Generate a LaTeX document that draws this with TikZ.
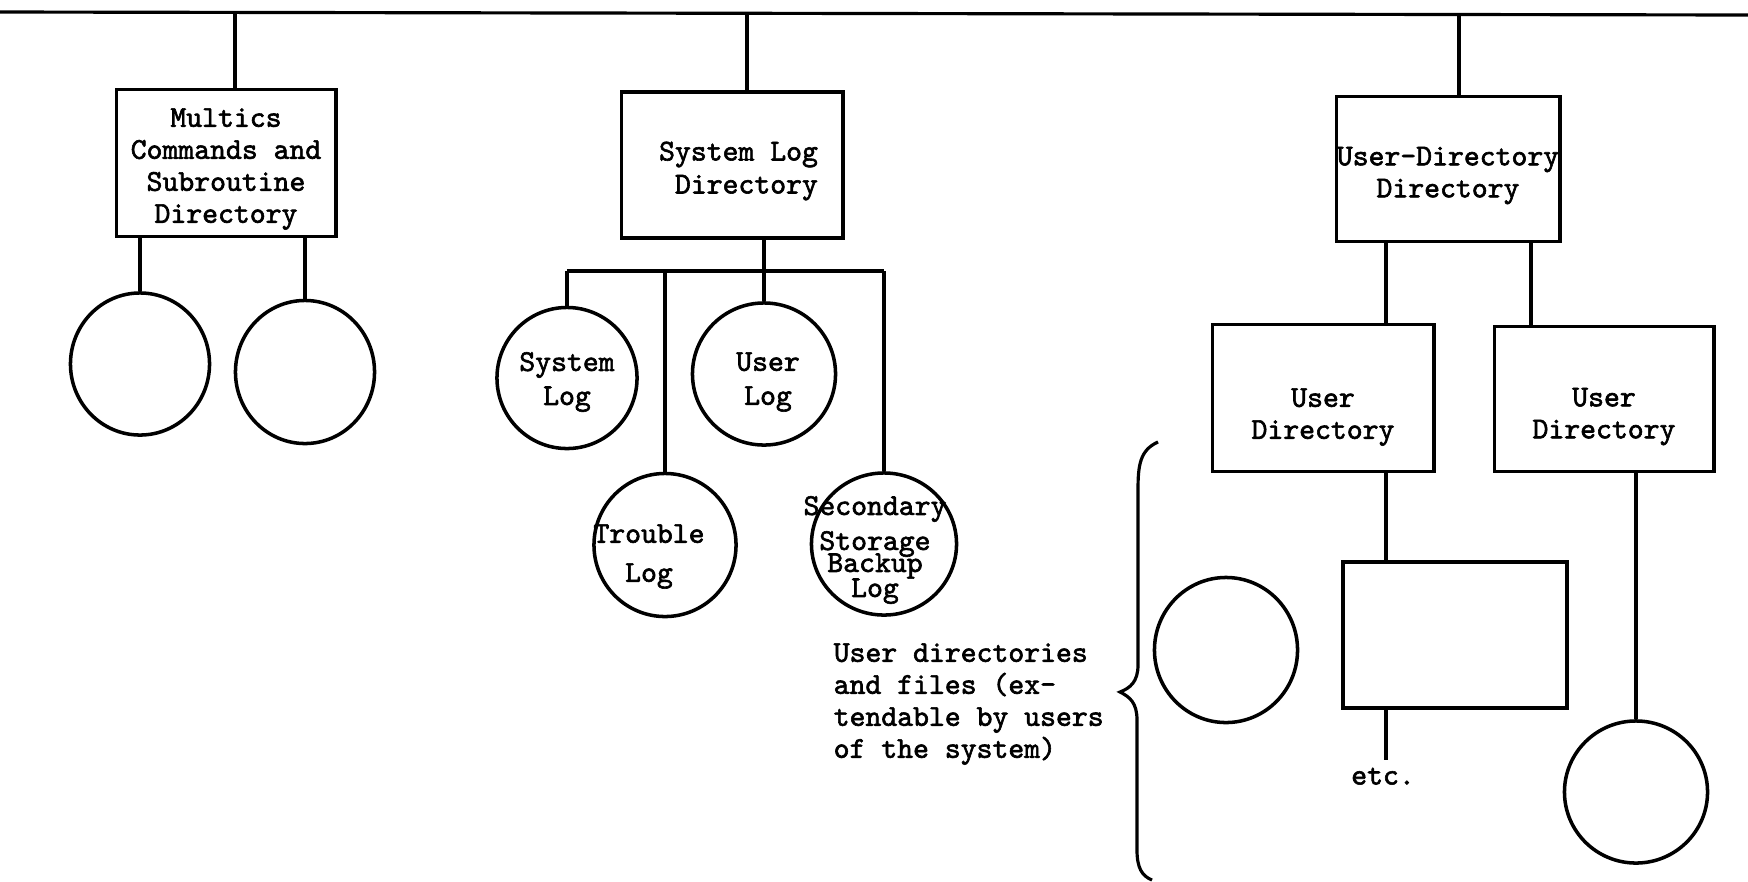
\documentclass[tikz,border=0pt]{standalone}
\usetikzlibrary{shapes.geometric}
\font\dirfont="[lmmono10-regular]:embolden=2" at 8.6pt
\newcommand\dirtext{\dirfont\baselineskip=9.1pt\relax}
\tikzset{
  dirbox/.style={draw, line width=1.1pt, rectangle, inner sep=0pt},
  filenode/.style={draw, line width=1pt, ellipse, inner sep=0pt},
  nametext/.style={align=center, inner sep=0pt},
  link/.style={line width=0.9pt}
}

\begin{document}
\begin{tikzpicture}[x=0.01cm, y=-0.01cm, every node/.append style={font=\dirtext}]
  \useasboundingbox (0,0) rectangle (1748,881);
  \coordinate (rootL) at (0,12);
  \coordinate (rootR) at (1748,15);
  \draw [link] (rootL) -- (rootR);

  % commands and subroutines
  \node [dirbox, minimum width=2.19cm, minimum height=1.47cm, label={[nametext, yshift=-0.06cm]center:Multics\\Commands and\\Subroutine\\Directory}] (cmddir) at (226,163) {};
  \node [filenode, minimum width=1.39cm, minimum height=1.42cm] (cmdA) at (140,364) {};
  \node [filenode, minimum width=1.39cm, minimum height=1.43cm] (cmdB) at (305,372) {};
  \coordinate (tapA) at (235,13);
  \draw [link] (tapA) -- (tapA |- cmddir.north);
  \draw [link] (cmdA.north |- cmddir.south) -- (cmdA.north);
  \draw [link] (cmdB.north |- cmddir.south) -- (cmdB.north);

  % system logs
  \node [dirbox, minimum width=2.21cm, minimum height=1.46cm, label={[nametext, align=right, xshift=0.065cm, yshift=-0.06cm]center:System Log\\[0.01cm]Directory}] (logdir) at (732,165) {};
  \node [filenode, minimum width=1.40cm, minimum height=1.41cm, label={[nametext, yshift=-0.04cm]center:System\\[0.02cm]Log}] (syslog) at (567,378) {};
  \node [filenode, minimum width=1.43cm, minimum height=1.42cm, label={[nametext, xshift=0.04cm, yshift=-0.08cm]center:User\\[0.02cm]Log}] (userlog) at (764,374) {};
  \node [filenode, minimum width=1.42cm, minimum height=1.43cm, label={[nametext, xshift=-0.16cm, yshift=-0.115cm]center:Trouble\\[0.07cm]Log}] (trouble) at (665,545) {};
  \node [filenode, minimum width=1.45cm, minimum height=1.42cm, label={[nametext, xshift=-0.09cm, yshift=-0.06cm]center:Secondary\\[0.03cm]Storage\\[-0.1cm]Backup\\[-0.07cm]Log}] (backup) at (884,544) {};
  \coordinate (tapB) at (747,13);
  \coordinate (logbus) at (0,271);
  \draw [link] (tapB) -- (tapB |- logdir.north);
  \draw [link] (userlog.north |- logdir.south) -- (userlog.north);
  \draw [link] (syslog.north |- logbus) -- (backup.north |- logbus);
  \draw [link] (syslog.north |- logbus) -- (syslog.north);
  \draw [link] (trouble.north |- logbus) -- (trouble.north);
  \draw [link] (backup.north |- logbus) -- (backup.north);

  % user directories
  \node [dirbox, minimum width=2.23cm, minimum height=1.45cm, label={[nametext, yshift=-0.065cm]center:User-Directory\\Directory}] (udd) at (1448,169) {};
  \node [dirbox, minimum width=2.21cm, minimum height=1.47cm, label={[nametext, yshift=-0.19cm]center:User\\Directory}] (udirA) at (1323,398) {};
  \node [dirbox, minimum width=2.19cm, minimum height=1.45cm, label={[nametext, yshift=-0.175cm]center:User\\Directory}] (udirB) at (1604,399) {};
  \node [dirbox, minimum width=2.24cm, minimum height=1.46cm] (subdir) at (1455,635) {};
  \node [filenode, minimum width=1.43cm, minimum height=1.45cm] (fileA) at (1226,650) {};
  \node [filenode, minimum width=1.43cm, minimum height=1.42cm] (fileB) at (1636,792) {};
  \node [anchor=north, inner sep=2pt] (etc) at (1383,760) {etc.};
  \coordinate (tapC) at (1459,15);
  \coordinate (colA) at (1386,0);
  \coordinate (colB) at (1531,0);
  \draw [link] (tapC) -- (tapC |- udd.north);
  \draw [link] (colA |- udd.south) -- (colA |- udirA.north);
  \draw [link] (colB |- udd.south) -- (colB |- udirB.north);
  \draw [link] (colA |- udirA.south) -- (colA |- subdir.north);
  \draw [link] (colA |- subdir.south) -- (colA |- etc.north);
  \draw [link] (fileB.north |- udirB.south) -- (fileB.north);

  % brace and note
  \draw [line width=0.9pt] (1158,442) .. controls (1140,450) and (1138,465) .. (1138,490) -- (1138,665) .. controls (1138,682) and (1130,688) .. (1120,692) .. controls (1130,697) and (1137,703) .. (1137,720) -- (1137,850) .. controls (1137,868) and (1142,876) .. (1152,880);
  \node [anchor=west, align=left, inner sep=0pt] (note) at (833,704) {User directories\\and files (ex-\\tendable by users\\of the system)};
\end{tikzpicture}
\end{document}
